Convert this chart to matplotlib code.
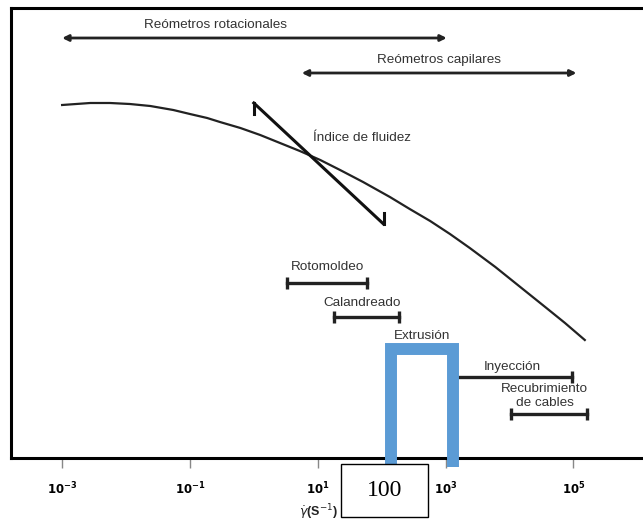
import matplotlib
matplotlib.use("Agg")
import matplotlib.pyplot as plt

plt.rcParams['font.family'] = ['Liberation Sans', 'DejaVu Sans']

# ---- data (log10 of shear rate, arbitrary viscosity units) ----
curve_logx = [-3.0, -2.56, -2.25, -1.94, -1.62, -1.26, -1.0, -0.73, -0.53, -0.21, 0.10, 0.41,
              0.72, 1.04, 1.35, 1.71, 2.13, 2.44, 2.76, 3.07, 3.38, 3.78, 4.17, 4.56, 4.87, 5.18]
curve_y = [353, 355, 355, 354, 352, 348, 344, 340, 336, 330, 323, 315,
           307, 298, 288, 276, 261, 249, 237, 224, 210, 191, 171, 151, 135, 118]

index_logx = [0.0, 2.03]
index_y = [355, 234]

rheometer_labels = ["Reómetros rotacionales", "Reómetros capilares"]
rheometer_ranges = [(-3.0, 3.02), (0.75, 5.05)]
rheometer_y = [420, 385]

process_labels = ["Rotomoldeo", "Calandreado", "Extrusión", "Inyección", "Recubrimiento\nde cables"]
process_ranges = [(0.52, 1.77), (1.25, 2.27), (2.15, 3.11), (3.11, 4.98), (4.03, 5.22)]
process_y = [175, 141, 108, 81, 44]

tick_exps = [-3, -1, 1, 3, 5]
tick_labels = [r'$\mathbf{10^{-3}}$', r'$\mathbf{10^{-1}}$', r'$\mathbf{10^{1}}$', r'$\mathbf{10^{3}}$', r'$\mathbf{10^{5}}$']

highlight_logx = (2.149, 3.111)
highlight_top = 109
highlight_text = "100"

# ---- figure ----
fig = plt.figure(figsize=(6.43, 5.23), dpi=100)
ax = fig.add_axes([11/643, (523-458)/523, 640/643, 450/523])
ax.set_xscale('log')
ax.set_xlim(10**-3.8, 10**6.216)
ax.set_ylim(0, 450)
ax.set_yticks([])
for s in ['left', 'top', 'bottom', 'right']:
    ax.spines[s].set_linewidth(2.2)
ax.set_xticks([10.0**e for e in tick_exps])
ax.set_xticklabels(tick_labels, fontsize=8.5)
ax.xaxis.set_minor_locator(matplotlib.ticker.NullLocator())
ax.tick_params(axis='x', direction='out', length=7, width=1, color='#888888', pad=9)

txt_color = '#333333'
fs = 9.7

# main curve
ax.plot([10**v for v in curve_logx], curve_y, color='#222222', lw=1.6)

# fluidity index line with caps
ix = [10**v for v in index_logx]
ax.plot(ix, index_y, color='#111111', lw=2.2)
ax.plot([ix[0], ix[0]], [index_y[0], index_y[0]-11], color='#111111', lw=2.2)
ax.plot([ix[1], ix[1]], [index_y[1], index_y[1]+11], color='#111111', lw=2.2)
ax.text(10**0.92, 320, "Índice de fluidez", fontsize=fs, color=txt_color, va='center')

# rheometer arrows
rheo_label_pos = [-0.6, 2.9]
for lab, (a, b), y, lp in zip(rheometer_labels, rheometer_ranges, rheometer_y, rheo_label_pos):
    ax.annotate('', xy=(10**a, y), xytext=(10**b, y),
                arrowprops=dict(arrowstyle='<|-|>', color='#222222', lw=2,
                                mutation_scale=9, shrinkA=0, shrinkB=0))
    ax.text(10**lp, y + 13, lab, fontsize=fs, color=txt_color, ha='center', va='center')

# process bars
label_offsets = [16, 14, 14, 10, 18]
label_pos = [1.16, 1.70, 2.63, 4.05, 4.55]
for lab, (a, b), y, off, lp in zip(process_labels, process_ranges, process_y, label_offsets, label_pos):
    ax.plot([10**a, 10**b], [y, y], color='#222222', lw=2.4,
            marker='|', markersize=9, markeredgewidth=2.4)
    ax.text(10**lp, y + off, lab, fontsize=fs, color=txt_color, ha='center', va='center',
            linespacing=1.25)

# highlight rectangle (open at bottom)
hl = [10**highlight_logx[0], 10**highlight_logx[0], 10**highlight_logx[1], 10**highlight_logx[1]]
ax.plot(hl, [-9, highlight_top, highlight_top, -9], color='#5B9BD5', lw=8.6,
        solid_joinstyle='miter', solid_capstyle='butt', clip_on=False, zorder=5)

# x label
fig.text(318/643, 1 - 512/523, r'$\dot{\gamma}$(S$^{-1}$)', fontsize=9, fontweight='bold',
         color='#222222', ha='center', va='center')

# boxed value
bx0, bx1, by0, by1 = 341/643, 428/643, 1 - 517/523, 1 - 464/523
fig.patches.append(matplotlib.patches.Rectangle((bx0, by0), bx1-bx0, by1-by0,
                   transform=fig.transFigure, facecolor='white', edgecolor='black',
                   lw=1, zorder=10))
fig.text((bx0+bx1)/2, (by0+by1)/2, highlight_text, fontsize=17, family='Liberation Serif',
         ha='center', va='center', zorder=11)

fig.savefig('out.png', dpi=100)
